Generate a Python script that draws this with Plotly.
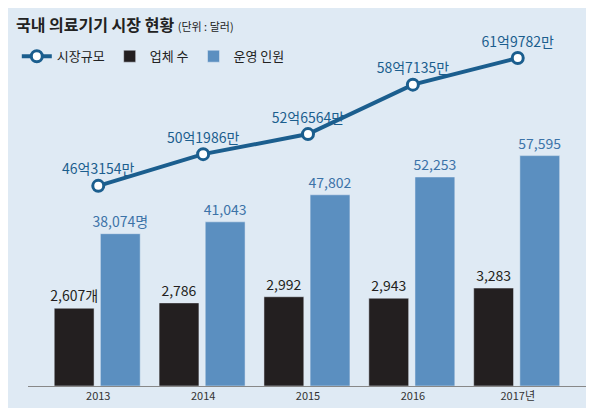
import plotly.graph_objects as go

years = ["2013", "2014", "2015", "2016", "2017년"]
companies = [2607, 2786, 2992, 2943, 3283]
company_labels = ["2,607개", "2,786", "2,992", "2,943", "3,283"]
workers = [38074, 41043, 47802, 52253, 57595]
worker_labels = ["38,074명", "41,043", "47,802", "52,253", "57,595"]
market = [46.3154, 50.1986, 52.6564, 58.7135, 61.9782]  # 억 달러
market_labels = ["46억3154만", "50억1986만", "52억6564만", "58억7135만", "61억9782만"]

xs = list(range(len(years)))
font = "Noto Sans CJK KR"
line_col = "#1b5e8e"
blue = "#5b8fc0"
black = "#231f20"

fig = go.Figure()
fig.add_trace(go.Scatter(
    x=xs, y=market, name="시장규모", mode="lines+markers+text",
    line=dict(color=line_col, width=4),
    marker=dict(size=11, color="white", line=dict(color=line_col, width=3)),
    text=market_labels, textposition="top center",
    textfont=dict(color=line_col, size=14, family=font), cliponaxis=False,
    xaxis="x", yaxis="y3"))
fig.add_trace(go.Bar(
    x=xs, y=companies, name="업체 수", marker_color=black,
    offset=-0.42, width=0.38, text=company_labels, textposition="outside",
    constraintext="none",
    textfont=dict(color=black, size=14, family=font), cliponaxis=False,
    xaxis="x", yaxis="y"))
fig.add_trace(go.Bar(
    x=xs, y=workers, name="운영 인원", marker_color=blue,
    offset=0.02, width=0.38, text=worker_labels, textposition="outside",
    constraintext="none",
    textfont=dict(color="#3c73a8", size=14, family=font), cliponaxis=False,
    xaxis="x", yaxis="y2"))

fig.update_layout(
    width=594, height=408,
    margin=dict(l=20, r=14, t=40, b=30, autoexpand=False),
    paper_bgcolor="#dfeaf4", plot_bgcolor="#dfeaf4",
    font=dict(family=font),
    showlegend=True,
    legend=dict(orientation="h", x=-0.02, y=1.02, xanchor="left", yanchor="top",
                traceorder="normal", font=dict(size=13, color="#222"),
                bgcolor="rgba(0,0,0,0)"),
    xaxis=dict(range=[-0.67, 4.67], tickvals=xs, ticktext=years,
               showgrid=False, zeroline=False, showline=True, linecolor="#888",
               tickfont=dict(size=11, color="#333")),
    yaxis=dict(range=[0, 11330], visible=False),
    yaxis2=dict(range=[0, 84500], overlaying="y", visible=False),
    yaxis3=dict(range=[21.8, 63.2], overlaying="y", visible=False),
    annotations=[dict(
        x=0, y=1.0, xref="paper", yref="paper", yanchor="bottom", xanchor="left",
        xshift=-14, yshift=10,
        text="<b>국내 의료기기 시장 현황</b> <span style='font-size:11px'>(단위 : 달러)</span>",
        showarrow=False, font=dict(size=16, color="#222"))],
)

fig.write_html("out.html")
